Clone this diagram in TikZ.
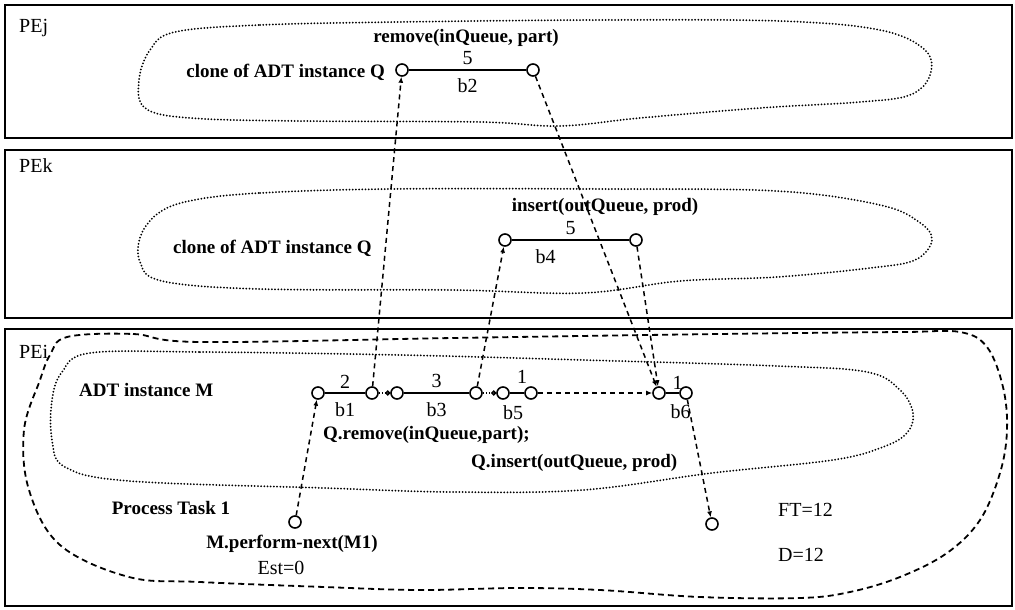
\documentclass[tikz,border=0pt]{standalone}
\usepackage{fontspec}
\setmainfont{Liberation Serif}
\usetikzlibrary{arrows.meta,positioning}

\begin{document}
\begin{tikzpicture}[x=1pt,y=-1pt,
  pe/.style={draw,line width=2.4pt},
  adt/.style={line width=2pt,line cap=round,dash pattern=on 0pt off 3.2pt},
  task/.style={line width=1.8pt,dash pattern=on 6pt off 4pt},
  pt/.style={circle,draw,line width=1.6pt,minimum size=12pt,inner sep=0pt},
  seg/.style={line width=1.8pt},
  dep/.style={line width=1.5pt,dash pattern=on 5pt off 4pt,-{Latex[length=6pt,width=5pt]}},
  lnk/.style={line width=1.5pt,dash pattern=on 1.5pt off 1.5pt,-{Circle[open,length=5pt]}},
  lbl/.style={font=\bfseries\fontsize{19}{21}\selectfont,inner sep=1pt},
  num/.style={font=\fontsize{20}{22}\selectfont,inner sep=1pt}]
  \useasboundingbox (0,0) rectangle (1015,610);
  \draw[pe] (5,5) rectangle (1012,138);
  \draw[pe] (5,150) rectangle (1012,318);
  \draw[pe] (5,329) rectangle (1012,606);
  \node[num,anchor=west] (pej) at (18,28) {PEj};
  \node[num,anchor=west] (pek) at (18,166) {PEk};
  \node[num,anchor=west] (pei) at (18,352) {PEi};
  \draw[adt] plot[smooth cycle,tension=0.6] coordinates {(175,32) (260,25) (400,22) (600,20) (780,21) (880,30) (925,50) (930,75) (910,95) (860,102) (760,108) (640,118) (560,126) (480,122) (300,121) (190,118) (145,108) (139,80) (150,50)};
  \draw[adt] plot[smooth cycle,tension=0.6] coordinates {(194,200) (260,193) (388,189) (600,189) (777,191) (880,205) (919,222) (932,240) (915,260) (870,268) (777,277) (680,281) (583,293) (453,290) (259,289) (162,281) (140,262) (141,235) (160,212)};
  \draw[adt] plot[smooth cycle,tension=0.6] coordinates {(90,353) (200,352) (400,355) (583,360) (777,366) (867,372) (900,390) (913,413) (907,433) (883,447) (833,460) (712,473) (583,490) (453,492) (324,488) (129,481) (65,467) (52,440) (52,400) (62,372)};
  \draw[task] plot[smooth cycle,tension=0.6] coordinates {(67,337) (133,334) (200,342) (453,338) (647,335) (800,333) (906,332) (960,332) (987,347) (1003,387) (1007,430) (1000,473) (980,520) (947,553) (900,577) (850,592) (800,598) (700,597) (600,590) (518,588) (420,590) (324,587) (200,582) (129,577) (60,545) (29,490) (24,430) (40,380) (50,355)};
  \node[pt] (b2s) at (402,70) {};
  \node[pt] (b2e) at (533,70) {};
  \node[pt] (b4s) at (505,240) {};
  \node[pt] (b4e) at (636,240) {};
  \foreach \n/\x in {b1s/318,b1e/372,b3s/397,b3e/476,b5s/503,b5e/531,b6s/659,b6e/686}
    \node[pt] (\n) at (\x,393) {};
  \node[pt] (start) at (295,522) {};
  \node[pt] (fin) at (712,524) {};
  \node[lbl] (rm) at (466,38) {remove(inQueue, part)};
  \node[lbl,anchor=east] (cq1) at (386,72) {clone of ADT instance Q};
  \node[lbl] (ins) at (605,207) {insert(outQueue, prod)};
  \node[lbl,anchor=west] (cq2) at (172,248) {clone of ADT instance Q};
  \node[lbl,anchor=west] (adtm) at (78,390) {ADT instance M};
  \node[lbl,anchor=west] (qrm) at (322,435) {Q.remove(inQueue,part);};
  \node[lbl,anchor=west] (qin) at (470,463) {Q.insert(outQueue, prod)};
  \node[lbl] (task) at (171,508) {Process Task 1};
  \node[lbl] (perf) at (292,544) {M.perform-next(M1)};
  \node[num] (est) at (281,568) {Est=0};
  \node[num,anchor=west] (ft) at (777,510) {FT=12};
  \node[num,anchor=west] (dl) at (777,555) {D=12};
  \draw[seg] (b2s) -- (b2e) node[num,midway,above=3pt] (w2) {5} node[num,midway,below=7pt] (n2) {b2};
  \draw[seg] (b4s) -- (b4e) node[num,midway,above=3pt] (w4) {5} node[num,midway,below=8pt,xshift=-25pt] (n4) {b4};
  \draw[seg] (b1s) -- (b1e) node[num,midway,above=3pt] (w1) {2} node[num,midway,below=8pt] (n1) {b1};
  \draw[seg] (b3s) -- (b3e) node[num,midway,above=3pt] (w3) {3} node[num,midway,below=8pt] (n3) {b3};
  \draw[seg] (b5s) -- (b5e) node[num,midway,above=8pt,xshift=5pt] (w5) {1} node[num,midway,below=11pt,xshift=-4pt] (n5) {b5};
  \draw[seg] (b6s) -- (b6e) node[num,midway,above=2pt,xshift=5pt] (w6) {1} node[num,midway,below=10pt,xshift=8pt] (n6) {b6};
  \draw[lnk] (b1e) -- (b3s);
  \draw[lnk] (b3e) -- (b5s);
  \draw[dep] (b5e) -- (b6s);
  \draw[dep] (start) -- (b1s);
  \draw[dep] (b1e) -- (b2s);
  \draw[dep] (b2e) -- (b6s);
  \draw[dep] (b3e) -- (b4s);
  \draw[dep] (b4e) -- (b6s);
  \draw[dep] (b6e) -- (fin);
\end{tikzpicture}
\end{document}
